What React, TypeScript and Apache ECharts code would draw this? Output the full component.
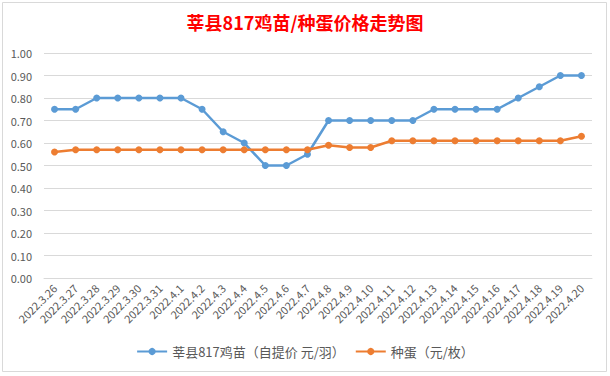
import React, { useEffect, useRef } from "react";
import * as echarts from "echarts";

const categories = [
  "2022.3.26", "2022.3.27", "2022.3.28", "2022.3.29", "2022.3.30", "2022.3.31",
  "2022.4.1", "2022.4.2", "2022.4.3", "2022.4.4", "2022.4.5", "2022.4.6", "2022.4.7",
  "2022.4.8", "2022.4.9", "2022.4.10", "2022.4.11", "2022.4.12", "2022.4.13",
  "2022.4.14", "2022.4.15", "2022.4.16", "2022.4.17", "2022.4.18", "2022.4.19", "2022.4.20",
];
const chickPrice = [
  0.75, 0.75, 0.8, 0.8, 0.8, 0.8, 0.8, 0.75, 0.65, 0.6, 0.5, 0.5, 0.55,
  0.7, 0.7, 0.7, 0.7, 0.7, 0.75, 0.75, 0.75, 0.75, 0.8, 0.85, 0.9, 0.9,
];
const eggPrice = [
  0.56, 0.57, 0.57, 0.57, 0.57, 0.57, 0.57, 0.57, 0.57, 0.57, 0.57, 0.57, 0.57,
  0.59, 0.58, 0.58, 0.61, 0.61, 0.61, 0.61, 0.61, 0.61, 0.61, 0.61, 0.61, 0.63,
];
const seriesNames = ["莘县817鸡苗（自提价 元/羽）", "种蛋（元/枚）"];
const titleText = "莘县817鸡苗/种蛋价格走势图";

export default function App() {
  const ref = useRef<HTMLDivElement>(null);
  useEffect(() => {
    if (!ref.current) return;
    const chart = echarts.init(ref.current, null, { renderer: "svg" });
    const font = "'Noto Sans CJK SC', 'Noto Sans', sans-serif";
    chart.setOption({
      animation: false,
      backgroundColor: "#ffffff",
      textStyle: { fontFamily: font },
      graphic: [
        {
          type: "rect",
          shape: { x: 2.5, y: 2.5, width: 604, height: 369 },
          style: { fill: "none", stroke: "#d9d9d9", lineWidth: 1 },
          silent: true,
        },
      ],
      title: {
        text: titleText,
        left: "center",
        top: 8,
        textStyle: { color: "#ff0000", fontSize: 18, fontWeight: "bold", fontFamily: font },
      },
      legend: {
        bottom: 13,
        left: "center",
        itemWidth: 30,
        itemHeight: 9,
        itemGap: 10,
        textStyle: { color: "#595959", fontSize: 13, fontFamily: font },
        data: seriesNames,
      },
      grid: { left: 44, right: 18, top: 53, bottom: 98 },
      xAxis: {
        type: "category",
        data: categories,
        boundaryGap: true,
        axisLine: { show: true, lineStyle: { color: "#d9d9d9" } },
        axisTick: { show: false },
        axisLabel: {
          rotate: 45,
          interval: 0,
          color: "#595959",
          fontSize: 11,
          margin: 8,
          fontFamily: font,
        },
      },
      yAxis: {
        type: "value",
        min: 0,
        max: 1,
        interval: 0.1,
        axisLine: { show: false },
        axisTick: { show: false },
        splitLine: { lineStyle: { color: "#d9d9d9" } },
        axisLabel: {
          color: "#595959",
          fontSize: 11,
          margin: 12,
          formatter: (v: number) => v.toFixed(2),
          fontFamily: font,
        },
      },
      series: [
        {
          name: seriesNames[0],
          type: "line",
          data: chickPrice,
          symbol: "circle",
          symbolSize: 7,
          color: "#5B9BD5",
          lineStyle: { width: 2.5, color: "#5B9BD5" },
          itemStyle: { color: "#5B9BD5" },
        },
        {
          name: seriesNames[1],
          type: "line",
          data: eggPrice,
          symbol: "circle",
          symbolSize: 7,
          color: "#ED7D31",
          lineStyle: { width: 2.5, color: "#ED7D31" },
          itemStyle: { color: "#ED7D31" },
        },
      ],
    });
    return () => chart.dispose();
  }, []);
  return (
    <div
      ref={ref}
      style={{ position: "fixed", left: 0, top: 0, width: 610, height: 376 }}
    />
  );
}
